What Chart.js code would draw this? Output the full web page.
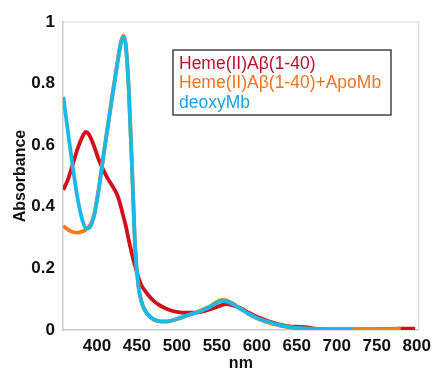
<!DOCTYPE html>
<html>
<head>
<meta charset="utf-8">
<script src="https://cdn.jsdelivr.net/npm/chart.js@4"></script>
<style>
  html, body { margin: 0; padding: 0; background: #fff; }
  #wrap { width: 437px; height: 368px; }
</style>
</head>
<body>
<div id="wrap"><canvas id="spec" width="437" height="368"></canvas></div>
<script>
// wavelength (nm)
const nm = [358,364,370,376,382,386,390,396,402,408,
  414,420,426,430,433,436,440,444,448,452,
  456,460,466,472,480,490,500,510,520,530,
  540,550,556,562,570,580,590,600,610,620,
  630,640,650,660,680,700,720,740,760,780,798];

const hemeAb = [0.455,0.49,0.54,0.59,0.628,0.643,0.635,0.6,0.555,0.52,
  0.49,0.465,0.435,0.4,0.37,0.34,0.29,0.245,0.205,0.17,
  0.143,0.128,0.108,0.092,0.078,0.066,0.059,0.056,0.056,0.059,
  0.066,0.075,0.081,0.084,0.08,0.071,0.056,0.043,0.033,0.024,
  0.017,0.012,0.011,0.009,0.003,0.002,0.002,0.002,0.003,0.004,0.004];

const hemeAbApoMb = [0.338,0.326,0.318,0.316,0.32,0.326,0.335,0.37,0.455,0.565,
  0.67,0.775,0.875,0.935,0.956,0.93,0.775,0.525,0.262,0.14,
  0.09,0.064,0.043,0.032,0.027,0.028,0.035,0.044,0.053,0.063,
  0.075,0.091,0.098,0.096,0.086,0.069,0.052,0.038,0.028,0.02,
  0.013,0.009,0.006,0.004,0.003,0.002,0.002,0.003,0.003,0.004,null];

const deoxyMb = [0.757,0.64,0.525,0.425,0.355,0.332,0.33,0.365,0.45,0.56,
  0.665,0.77,0.87,0.93,0.951,0.925,0.77,0.52,0.26,0.14,
  0.09,0.065,0.045,0.034,0.028,0.029,0.036,0.045,0.053,0.062,
  0.073,0.088,0.095,0.093,0.084,0.068,0.052,0.039,0.03,0.022,
  0.015,0.01,0.007,0.005,0.003,0.002,0.002,null,null,null,null];

const seriesNames = ["Heme(II)Aβ(1-40)", "Heme(II)Aβ(1-40)+ApoMb", "deoxyMb"];
const xTicks = [400,450,500,550,600,650,700,750,800];
const yTicks = [0,0.2,0.4,0.6,0.8,1];

const FONT = "'Liberation Sans', Arial, sans-serif";

function toPoints(vals) {
  return nm.map((x, i) => ({ x, y: vals[i] }));
}

function line(label, vals, color, textColor, order) {
  return {
    label, data: toPoints(vals), borderColor: color, textColor,
    borderWidth: 3.8, pointRadius: 0, fill: false, spanGaps: false,
    cubicInterpolationMode: "monotone", order
  };
}

/** Legend drawn inside the plot, text coloured per series, in a box */
const boxLegend = {
  id: "boxLegend",
  afterDraw(chart) {
    const ctx = chart.ctx;
    ctx.save();
    ctx.strokeStyle = "#444";
    ctx.lineWidth = 1.5;
    ctx.strokeRect(173, 50, 218, 65);
    ctx.font = "17.5px " + FONT;
    ctx.textBaseline = "middle";
    ctx.textAlign = "left";
    chart.data.datasets.forEach((ds, i) => {
      ctx.fillStyle = ds.textColor;
      ctx.fillText(ds.label, 179, 64 + i * 19.5);
    });
    ctx.restore();
  }
};

new Chart(document.getElementById("spec"), {
  type: "line",
  data: {
    datasets: [
      line(seriesNames[0], hemeAb, "#d0101e", "#b8122f", 3),
      line(seriesNames[1], hemeAbApoMb, "#f27b1e", "#f0741e", 2),
      line(seriesNames[2], deoxyMb, "#1cb8e6", "#1d9fe4", 1)
    ]
  },
  options: {
    responsive: false,
    animation: false,
    layout: { padding: { top: 22, right: 17, left: 0, bottom: 0 } },
    plugins: { legend: { display: false }, tooltip: { enabled: false } },
    scales: {
      x: {
        type: "linear", min: 357.6, max: 802.5,
        border: { display: true, color: "#c8c8c8", width: 1.5 },
        grid: { display: false, drawTicks: false },
        afterBuildTicks: s => { s.ticks = xTicks.map(v => ({ value: v })); },
        afterFit: s => { s.height = 38; },
        ticks: { color: "#111", padding: 6, maxRotation: 0,
          font: { family: FONT, size: 17, weight: "bold" } },
        title: { display: true, text: "nm", color: "#111", padding: 0,
          font: { family: FONT, size: 16, weight: "bold", lineHeight: 0.5 } }
      },
      y: {
        min: 0, max: 1,
        border: { display: true, color: "#c8c8c8", width: 1.5 },
        grid: { display: false, drawTicks: false },
        afterBuildTicks: s => { s.ticks = yTicks.map(v => ({ value: v })); },
        afterFit: s => { s.width = 63; },
        ticks: { color: "#111", padding: 8,
          font: { family: FONT, size: 17, weight: "bold" },
          callback: v => String(v) },
        title: { display: true, text: "Absorbance", color: "#111", padding: { top: 11 },
          font: { family: FONT, size: 16, weight: "bold" } }
      }
    }
  },
  plugins: [boxLegend, {
    id: "frame",
    beforeDatasetsDraw(chart) {
      const a = chart.chartArea, ctx = chart.ctx;
      ctx.save();
      ctx.strokeStyle = "#d8d8d8";
      ctx.lineWidth = 1.2;
      ctx.beginPath();
      ctx.moveTo(a.left, a.top); ctx.lineTo(a.right, a.top); ctx.lineTo(a.right, a.bottom);
      ctx.stroke();
      ctx.restore();
    }
  }]
});
</script>
</body>
</html>
